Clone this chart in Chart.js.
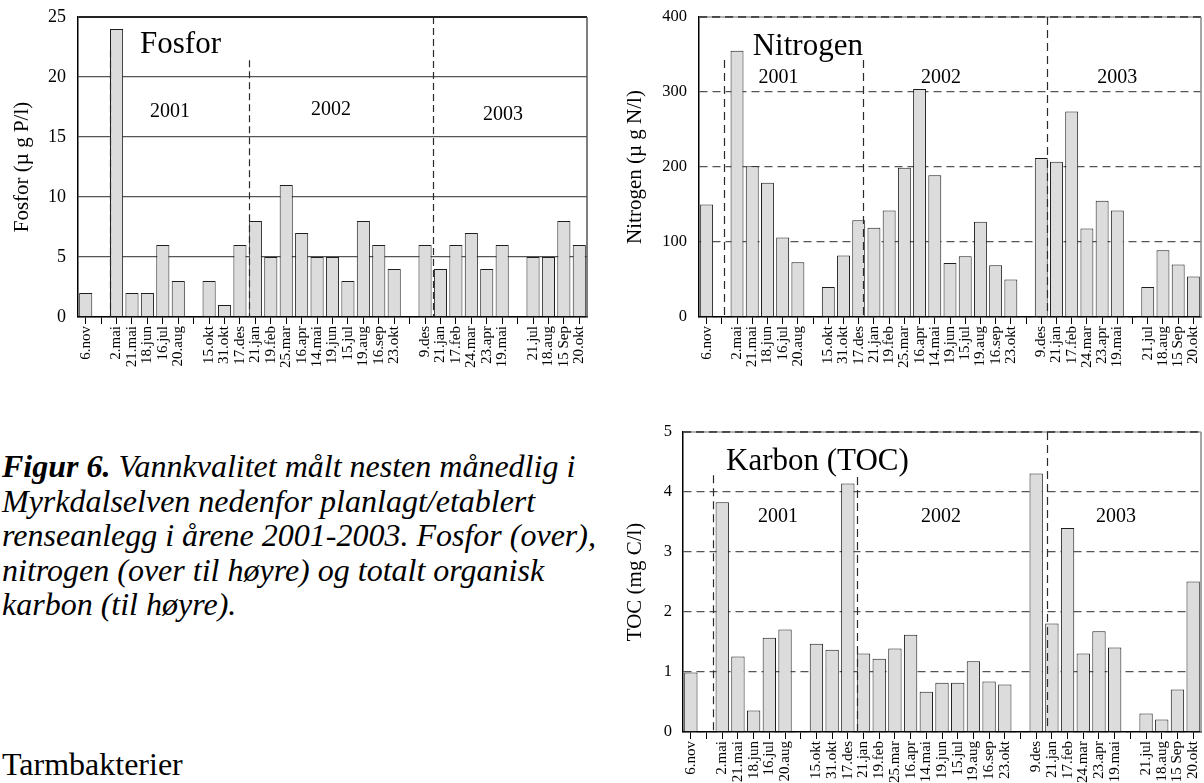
<!DOCTYPE html>
<html><head><meta charset="utf-8">
<script src="https://cdn.jsdelivr.net/npm/chart.js@4.4.1/dist/chart.umd.min.js"></script>
<style>
html,body{margin:0;padding:0;background:#fff;}
body{width:1204px;height:783px;overflow:hidden;position:relative;font-family:"Liberation Serif","Times New Roman",serif;color:#000;}
canvas{position:absolute;}
#caption{position:absolute;left:2px;top:449px;font-style:italic;font-size:32px;line-height:34.5px;white-space:nowrap;}
#heading{position:absolute;left:2px;top:745px;font-size:32px;line-height:38px;white-space:nowrap;}
</style></head>
<body>
<canvas id="cF" width="600" height="372" style="left:0;top:0"></canvas>
<canvas id="cN" width="604" height="372" style="left:600px;top:0"></canvas>
<canvas id="cT" width="604" height="363" style="left:600px;top:420px"></canvas>
<div id="caption"><b>Figur 6.</b> Vannkvalitet målt nesten månedlig i<br>Myrkdalselven nedenfor planlagt/etablert<br>renseanlegg i årene 2001-2003. Fosfor (over),<br>nitrogen (over til høyre) og totalt organisk<br>karbon (til høyre).</div>
<div id="heading">Tarmbakterier</div>
<script>
// ---- data ----
const categories = ['6.nov','','2.mai','21.mai','18.jun','16.jul','20.aug','','15.okt','31.okt','17.des','21.jan','19.feb','25.mar','16.apr','14.mai','19.jun','15.jul','19.aug','16.sep','23.okt','','9.des','21.jan','17.feb','24.mar','23.apr','19.mai','','21.jul','18.aug','15 Sep','20.okt'];
const fosforValues = [2,null,24,2,2,6,3,null,3,1,6,8,5,11,7,5,5,3,8,6,4,null,6,4,6,7,4,6,null,5,5,8,6];
const nitrogenValues = [150,null,355,201,179,106,73,null,40,82,129,119,142,199,304,189,72,81,127,69,50,null,212,207,274,118,155,142,null,40,89,70,54];
const tocValues = [0.99,null,3.83,1.26,0.36,1.57,1.71,null,1.47,1.37,4.14,1.31,1.22,1.39,1.62,0.67,0.82,0.82,1.18,0.84,0.79,null,4.31,1.81,3.40,1.31,1.68,1.41,null,0.31,0.21,0.71,2.51];
const yearLabels = ['2001','2002','2003'];
const panelTitles = ['Fosfor','Nitrogen','Karbon (TOC)'];
const axisTitles = ['Fosfor (µ g P/l)','Nitrogen (µ g N/l)','TOC (mg C/l)'];

const FONT = 'Liberation Serif';

const decoPlugin = {
  id: 'deco',
  afterDatasetsDraw(chart, args, o) {
    const {ctx, chartArea: a, scales: {x, y}} = chart;
    const line = (x1, y1, x2, y2) => { ctx.beginPath(); ctx.moveTo(x1, y1); ctx.lineTo(x2, y2); ctx.stroke(); };
    ctx.save();
    if (o.topDashed) {
      ctx.setLineDash([]); ctx.strokeStyle = '#9a9a9a'; ctx.lineWidth = 1.5;
      line(a.left, a.top, a.right, a.top);
      ctx.setLineDash([8, 5]); ctx.strokeStyle = '#333'; ctx.lineWidth = 1.5;
      line(a.left, a.top, a.right, a.top);
    }
    ctx.setLineDash([]); ctx.strokeStyle = o.rightColor; ctx.lineWidth = 1.5;
    line(a.right, a.top, a.right, a.bottom);
    ctx.setLineDash(o.vDash); ctx.strokeStyle = '#2a2a2a'; ctx.lineWidth = 1.2;
    for (const v of o.vlines) {
      const px = Math.round(x.getPixelForValue(v[0])) + 0.5;
      line(px, y.getPixelForValue(v[1]), px, a.bottom);
    }
    ctx.setLineDash([]); ctx.fillStyle = '#000'; ctx.textBaseline = 'alphabetic';
    for (const t of o.texts) {
      ctx.font = t.size + 'px "' + FONT + '"';
      ctx.textAlign = t.align;
      ctx.fillText(t.text, x.getPixelForValue(t.x), y.getPixelForValue(t.y));
    }
    ctx.restore();
  }
};

function makeChart(id, values, c) {
  return new Chart(document.getElementById(id), {
    type: 'bar',
    data: { labels: categories, datasets: [{ data: values, backgroundColor: '#dcdcdc', borderColor: '#1e1e1e', borderWidth: 1, barPercentage: 0.85, categoryPercentage: 1 }] },
    options: {
      responsive: false, animation: false, devicePixelRatio: 1,
      layout: { padding: c.padding },
      plugins: { legend: { display: false }, tooltip: { enabled: false }, deco: c.deco },
      scales: {
        x: {
          grid: { display: true, drawOnChartArea: false, drawTicks: true, tickLength: 7, offset: false, color: '#000', tickWidth: 1 },
          border: { display: true, color: '#000', width: 1.5 },
          ticks: { autoSkip: false, maxRotation: 90, minRotation: 90, padding: 2, color: '#000', font: { family: FONT, size: 15 } },
          afterFit: s => { s.height = c.xHeight; s.paddingLeft = 0; s.paddingRight = 0; }
        },
        y: {
          min: 0, max: c.yMax,
          ticks: { stepSize: c.yStep, padding: c.yTickPad, color: '#000', font: { family: FONT, size: c.yTickSize } },
          grid: { drawTicks: false, color: c.gridColor, lineWidth: c.gridWidth },
          border: { display: true, color: '#000', width: 1.5, dash: c.gridDash },
          title: { display: true, text: c.yTitle, padding: { top: c.yTitlePad, bottom: 0 }, color: '#000', font: { family: FONT, size: 21 } },
          afterFit: s => { s.width = c.yWidth; s.paddingTop = 0; s.paddingBottom = 0; }
        }
      }
    },
    plugins: [decoPlugin]
  });
}

makeChart('cF', fosforValues, {
  padding: { left: 0, right: 13, top: 17, bottom: 0 },
  xHeight: 55, yWidth: 78, yMax: 25, yStep: 5, yTickPad: 12, yTickSize: 18, yTitlePad: 10,
  yTitle: axisTitles[0],
  gridColor: ctx => ctx.tick && ctx.tick.value === 25 ? '#222' : '#555',
  gridWidth: ctx => ctx.tick && ctx.tick.value === 25 ? 2 : 1.3,
  gridDash: [],
  deco: {
    topDashed: false, rightColor: '#555', vDash: [7, 4],
    vlines: [[1.575, 22.25], [10.59, 21.4], [22.52, 25]],
    texts: [
      { text: panelTitles[0], x: 3.52, y: 22, size: 31, align: 'left' },
      { text: yearLabels[0], x: 5.47, y: 16.7, size: 20, align: 'center' },
      { text: yearLabels[1], x: 15.9, y: 16.8, size: 20, align: 'center' },
      { text: yearLabels[2], x: 27.06, y: 16.4, size: 20, align: 'center' }
    ]
  }
});

makeChart('cN', nitrogenValues, {
  padding: { left: 0, right: 3, top: 17, bottom: 0 },
  xHeight: 55, yWidth: 99, yMax: 400, yStep: 100, yTickPad: 12, yTickSize: 16.5, yTitlePad: 23,
  yTitle: axisTitles[1],
  gridColor: '#555', gridWidth: 1.3, gridDash: [8, 5],
  deco: {
    topDashed: true, rightColor: '#888', vDash: [8, 5],
    vlines: [[1.14, 342.7], [10.3, 342.7], [22.4, 400]],
    texts: [
      { text: panelTitles[1], x: 3.03, y: 349, size: 31, align: 'left' },
      { text: yearLabels[0], x: 4.73, y: 312, size: 20, align: 'center' },
      { text: yearLabels[1], x: 15.41, y: 312, size: 20, align: 'center' },
      { text: yearLabels[2], x: 27.0, y: 312, size: 20, align: 'center' }
    ]
  }
});

makeChart('cT', tocValues, {
  padding: { left: 0, right: 3, top: 12, bottom: 0 },
  xHeight: 51, yWidth: 83, yMax: 5, yStep: 1, yTickPad: 11, yTickSize: 16.5, yTitlePad: 23,
  yTitle: axisTitles[2],
  gridColor: '#555', gridWidth: 1.3, gridDash: [8, 5],
  deco: {
    topDashed: true, rightColor: '#888', vDash: [8, 5],
    vlines: [[1.43, 4.28], [10.56, 4.25], [22.7, 5]],
    texts: [
      { text: panelTitles[2], x: 2.24, y: 4.37, size: 31, align: 'left' },
      { text: yearLabels[0], x: 5.55, y: 3.5, size: 20, align: 'center' },
      { text: yearLabels[1], x: 15.93, y: 3.5, size: 20, align: 'center' },
      { text: yearLabels[2], x: 27.08, y: 3.5, size: 20, align: 'center' }
    ]
  }
});
</script>
</body></html>
